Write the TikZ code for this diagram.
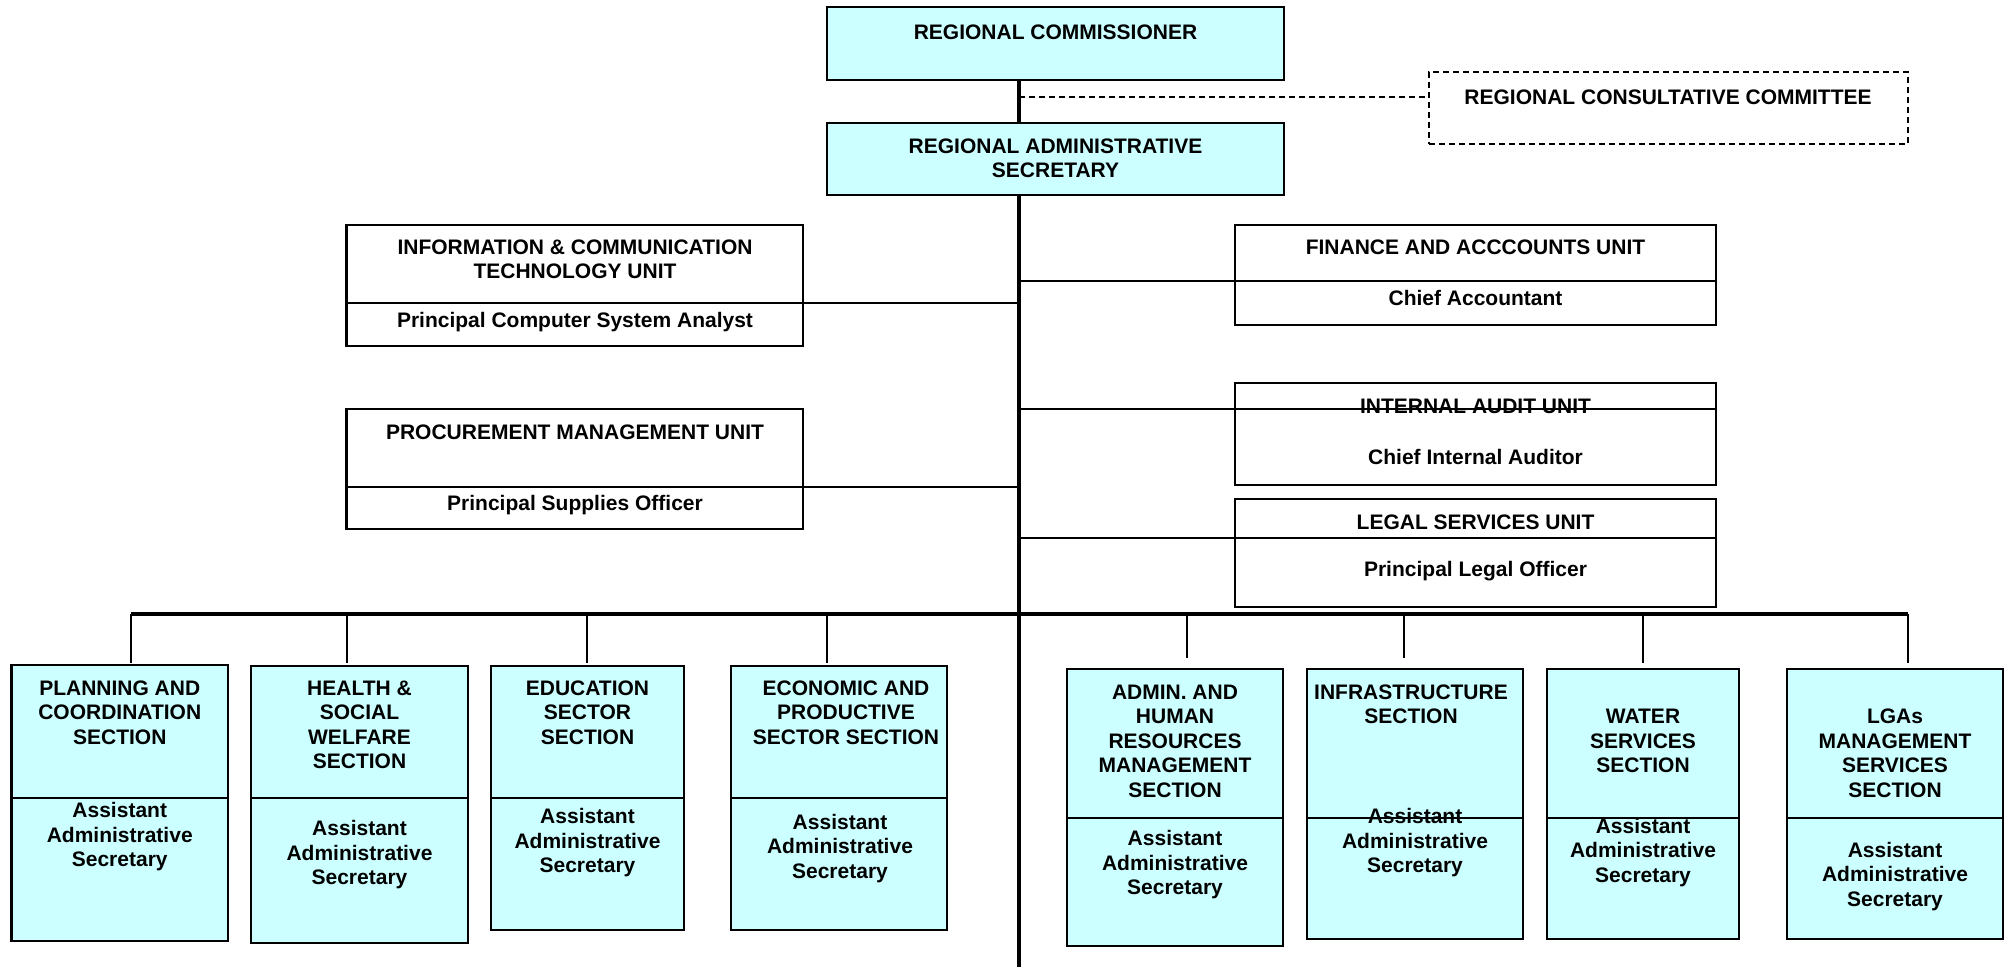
\documentclass[tikz,border=0pt]{standalone}
\usepackage{fontspec}
\setmainfont{Liberation Sans}
\definecolor{boxfill}{HTML}{CCFFFF}
\begin{document}
\begin{tikzpicture}[x=1pt,y=-1pt,
  box/.style={draw, line width=2.2pt, fill=boxfill, inner sep=0pt, outer sep=0pt},
  wbox/.style={draw, line width=2.2pt, fill=white, inner sep=0pt, outer sep=0pt},
  dbox/.style={draw, line width=1.6pt, dash pattern=on 6pt off 4pt, inner sep=0pt, outer sep=0pt},
  txt/.style={inner sep=0pt, outer sep=0pt, align=center, font=\bfseries\fontsize{21}{24.5}\selectfont},
  spine/.style={line width=4pt},
  link/.style={line width=2pt},
  dlink/.style={line width=1.6pt, dash pattern=on 6pt off 4pt},
  drop/.style={line width=1.5pt},
  bus/.style={line width=3.5pt},
]
\useasboundingbox (0,0) rectangle (2010,967);
\fill[white] (0,0) rectangle (2010,967);

% coordinates for the spine and bus
\coordinate (sp) at (1019,0);
\coordinate (bot) at (1019,967);
\coordinate (dj) at (1019,97);
\coordinate (bus) at (0,614);
\coordinate (busL) at (131,614);
\coordinate (busR) at (1908,614);

% top boxes
\node[box, minimum width=457pt, minimum height=73pt] (rc) at (1055.5,43.5) {};
\node[box, minimum width=457pt, minimum height=72pt] (ras) at (1055.5,159) {};
\node[dbox, minimum width=479pt, minimum height=72pt] (rcc) at (1668.5,108) {};

% spine and dashed link
\draw[spine] (rc.south -| sp) -- (ras.north -| sp);
\draw[spine] (ras.south -| sp) -- (bot);
\draw[dlink] (dj) -- (rcc.west |- dj);

% side units (left)
\node[wbox, minimum width=456.5pt, minimum height=78pt] (ictt) at (574.75,264) {};
\node[wbox, minimum width=456.5pt, minimum height=43pt] (ictb) at (574.75,324.5) {};
\node[wbox, minimum width=456.5pt, minimum height=78pt] (pmut) at (574.75,448) {};
\node[wbox, minimum width=456.5pt, minimum height=42pt] (pmub) at (574.75,508) {};
% side units (right)
\node[wbox, minimum width=481pt, minimum height=56pt] (fint) at (1475.5,253) {};
\node[wbox, minimum width=481pt, minimum height=44pt] (finb) at (1475.5,303) {};
\node[wbox, minimum width=481pt, minimum height=26pt] (iaut) at (1475.5,396) {};
\node[wbox, minimum width=481pt, minimum height=76pt] (iaub) at (1475.5,447) {};
\node[wbox, minimum width=481pt, minimum height=39pt] (legt) at (1475.5,518.5) {};
\node[wbox, minimum width=481pt, minimum height=69pt] (legb) at (1475.5,572.5) {};

% side links
\draw[link] (ictb.north east) -- (ictb.north east -| sp);
\draw[link] (pmub.north east) -- (pmub.north east -| sp);
\draw[link] (finb.north west) -- (finb.north west -| sp);
\draw[link] (iaub.north west) -- (iaub.north west -| sp);
\draw[link] (legb.north west) -- (legb.north west -| sp);

% bottom sections
\node[box, minimum width=216.5pt, minimum height=133pt] (b1t) at (119.75,731.5) {};
\node[box, minimum width=216.5pt, minimum height=143pt] (b1b) at (119.75,869.5) {};
\node[box, minimum width=217pt, minimum height=132pt] (b2t) at (359.5,732) {};
\node[box, minimum width=217pt, minimum height=145pt] (b2b) at (359.5,870.5) {};
\node[box, minimum width=193pt, minimum height=132pt] (b3t) at (587.5,732) {};
\node[box, minimum width=193pt, minimum height=132pt] (b3b) at (587.5,864) {};
\node[box, minimum width=216pt, minimum height=132pt] (b4t) at (839,732) {};
\node[box, minimum width=216pt, minimum height=132pt] (b4b) at (839,864) {};
\node[box, minimum width=216pt, minimum height=149pt] (b5t) at (1175,743.5) {};
\node[box, minimum width=216pt, minimum height=128pt] (b5b) at (1175,882) {};
\node[box, minimum width=216pt, minimum height=149pt] (b6t) at (1415,743.5) {};
\node[box, minimum width=216pt, minimum height=121pt] (b6b) at (1415,878.5) {};
\node[box, minimum width=192pt, minimum height=149pt] (b7t) at (1643,743.5) {};
\node[box, minimum width=192pt, minimum height=121pt] (b7b) at (1643,878.5) {};
\node[box, minimum width=216pt, minimum height=149pt] (b8t) at (1895,743.5) {};
\node[box, minimum width=216pt, minimum height=121pt] (b8b) at (1895,878.5) {};

% bus and drops
\draw[bus] (busL) -- (busR);
\draw[drop] ([xshift=11.25pt]b1t.north |- bus) -- ([xshift=11.25pt,yshift=2pt]b1t.north);
\draw[drop] ([xshift=-12.5pt]b2t.north |- bus) -- ([xshift=-12.5pt,yshift=3pt]b2t.north);
\draw[drop] ([xshift=-0.5pt]b3t.north |- bus) -- ([xshift=-0.5pt,yshift=3pt]b3t.north);
\draw[drop] ([xshift=-12pt]b4t.north |- bus) -- ([xshift=-12pt,yshift=3pt]b4t.north);
\draw[drop] ([xshift=12pt]b5t.north |- bus) -- ([xshift=12pt,yshift=11pt]b5t.north);
\draw[drop] ([xshift=-11pt]b6t.north |- bus) -- ([xshift=-11pt,yshift=11pt]b6t.north);
\draw[drop] (b7t.north |- bus) -- ([yshift=6pt]b7t.north);
\draw[drop] ([xshift=13pt]b8t.north |- bus) -- ([xshift=13pt,yshift=6pt]b8t.north);

% texts
\node[txt] (rc-l) at (1055.5,32) {REGIONAL COMMISSIONER};
\node[txt] (rcc-l) at (1668,97) {REGIONAL CONSULTATIVE COMMITTEE};
\node[txt] (ras-l) at (1055.5,158.5) {REGIONAL ADMINISTRATIVE\\SECRETARY};
\node[txt] (ict-l) at (575,259.5) {INFORMATION \& COMMUNICATION\\TECHNOLOGY UNIT};
\node[txt] (ict-s) at (575,322) {Principal Computer System Analyst};
\node[txt] (pmu-l) at (575,432) {PROCUREMENT MANAGEMENT UNIT};
\node[txt] (pmu-s) at (575,505) {Principal Supplies Officer};
\node[txt] (fin-l) at (1475.5,247) {FINANCE AND ACCCOUNTS UNIT};
\node[txt] (fin-s) at (1475.5,298) {Chief Accountant};
\node[txt] (iau-l) at (1475.5,406) {INTERNAL AUDIT UNIT};
\node[txt] (iau-s) at (1475.5,457) {Chief Internal Auditor};
\node[txt] (leg-l) at (1475.5,522) {LEGAL SERVICES UNIT};
\node[txt] (leg-s) at (1475.5,571) {Principal Legal Officer};

\node[txt] (b1-l) at (119.75,712.5) {PLANNING AND\\COORDINATION\\SECTION};
\node[txt] (b1-s) at (119.75,837) {Assistant\\Administrative\\Secretary};
\node[txt] (b2-l) at (359.5,725) {HEALTH \&\\SOCIAL\\WELFARE\\SECTION};
\node[txt] (b2-s) at (359.5,855) {Assistant\\Administrative\\Secretary};
\node[txt] (b3-l) at (587.5,712.5) {EDUCATION\\SECTOR\\SECTION};
\node[txt] (b3-s) at (587.5,843) {Assistant\\Administrative\\Secretary};
\node[txt] (b4-l) at (846,712.5) {ECONOMIC AND\\PRODUCTIVE\\SECTOR SECTION};
\node[txt] (b4-s) at (840,848.5) {Assistant\\Administrative\\Secretary};
\node[txt] (b5-l) at (1175,741) {ADMIN. AND\\HUMAN\\RESOURCES\\MANAGEMENT\\SECTION};
\node[txt] (b5-s) at (1175,865) {Assistant\\Administrative\\Secretary};
\node[txt] (b6-l) at (1411,704.5) {INFRASTRUCTURE\\SECTION};
\node[txt] (b6-s) at (1415,843) {Assistant\\Administrative\\Secretary};
\node[txt] (b7-l) at (1643,741) {WATER\\SERVICES\\SECTION};
\node[txt] (b7-s) at (1643,852.5) {Assistant\\Administrative\\Secretary};
\node[txt] (b8-l) at (1895,753.5) {LGAs\\MANAGEMENT\\SERVICES\\SECTION};
\node[txt] (b8-s) at (1895,876.5) {Assistant\\Administrative\\Secretary};
\end{tikzpicture}
\end{document}
